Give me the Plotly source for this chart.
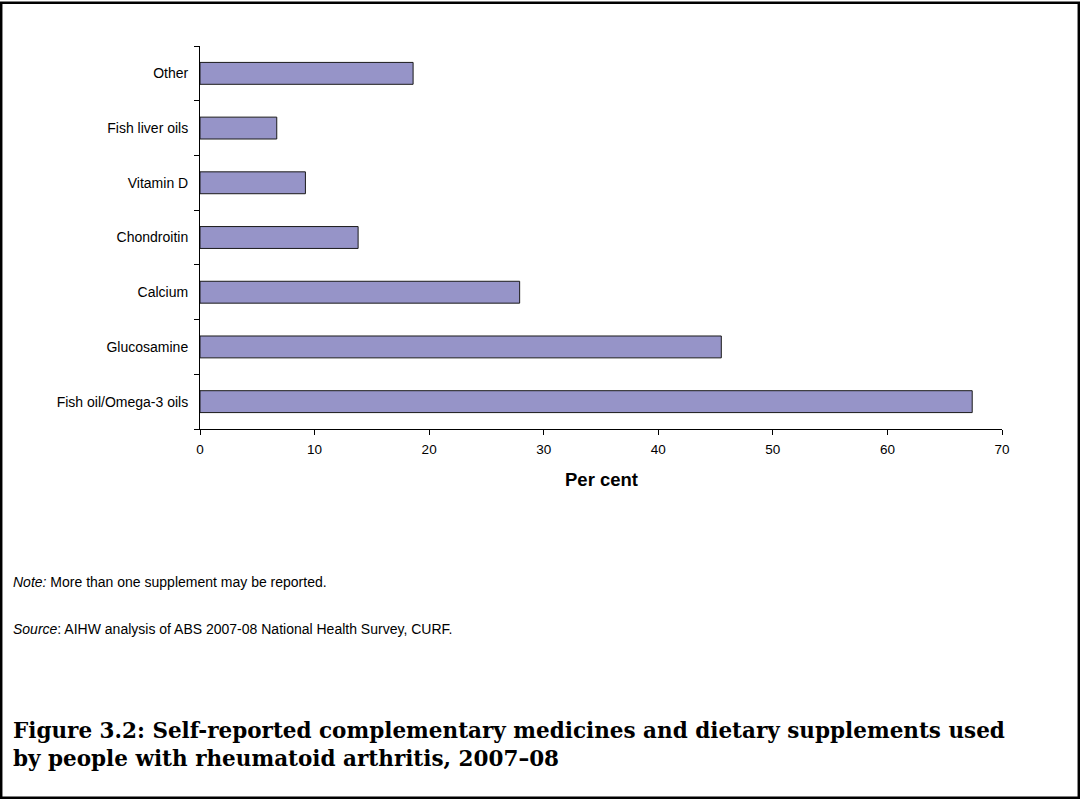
import plotly.graph_objects as go

# Data (bottom to top)
categories = ["Fish oil/Omega-3 oils", "Glucosamine", "Calcium", "Chondroitin",
              "Vitamin D", "Fish liver oils", "Other"]
per_cent = [67.4, 45.5, 27.9, 13.8, 9.2, 6.7, 18.6]
x_ticks = [0, 10, 20, 30, 40, 50, 60, 70]

note_text = "<i>Note:</i> More than one supplement may be reported."
source_text = "<i>Source</i>: AIHW analysis of ABS 2007-08 National Health Survey, CURF."
title_text = ("<b>Figure 3.2: Self-reported complementary medicines and dietary supplements used</b><br>"
              "<b>by people with rheumatoid arthritis, 2007–08</b>")

W, H = 1080, 799
L, R, T, B = 200, 78, 46, 370
PW, PH = W - L - R, H - T - B


def px(x):
    return (x - L) / PW


def py(y):
    return (H - B - y) / PH


fig = go.Figure()
fig.add_trace(go.Bar(
    y=categories, x=per_cent, orientation="h",
    marker=dict(color="#9694C8", line=dict(color="#1a1a1a", width=1)),
    width=0.4, hoverinfo="x+y",
))

fig.update_layout(
    width=W, height=H,
    margin=dict(l=L, r=R, t=T, b=B, autoexpand=False),
    paper_bgcolor="white", plot_bgcolor="white",
    showlegend=False,
    font=dict(family="Liberation Sans, Arial, sans-serif", color="black"),
    xaxis=dict(range=[0, 70], tickvals=x_ticks, showgrid=False, zeroline=False,
               showline=True, linecolor="black", linewidth=1,
               ticks="outside", ticklen=5, tickcolor="black", tickwidth=1,
               tickfont=dict(size=13.5), ticklabelstandoff=3),
    yaxis=dict(type="category", categoryorder="array", categoryarray=categories,
               range=[-0.5, 6.5], showgrid=False, zeroline=False,
               showline=True, linecolor="black", linewidth=1,
               ticks="outside", ticklen=5, tickcolor="black", tickwidth=1,
               tickson="boundaries", tickfont=dict(size=14), ticklabelstandoff=8),
)

fig.add_annotation(text="<b>Per cent</b>", xref="paper", yref="paper",
                   x=px(601), y=py(479), xanchor="center", yanchor="middle",
                   showarrow=False, font=dict(size=18.5))
fig.add_annotation(text=note_text, xref="paper", yref="paper",
                   x=px(11), y=py(582), xanchor="left", yanchor="middle",
                   showarrow=False, font=dict(size=14))
fig.add_annotation(text=source_text, xref="paper", yref="paper",
                   x=px(11), y=py(629), xanchor="left", yanchor="middle",
                   showarrow=False, font=dict(size=14))
fig.add_annotation(text=title_text, xref="paper", yref="paper",
                   x=px(11), y=py(744), xanchor="left", yanchor="middle",
                   align="left", showarrow=False,
                   font=dict(size=21.5, family="DejaVu Serif, serif"))

fig.add_shape(type="rect", xref="paper", yref="paper",
              x0=px(1.2), x1=px(1078.8), y0=py(797.8), y1=py(2.8),
              line=dict(color="black", width=2.5), fillcolor="rgba(0,0,0,0)")

fig.write_html("out.html")
